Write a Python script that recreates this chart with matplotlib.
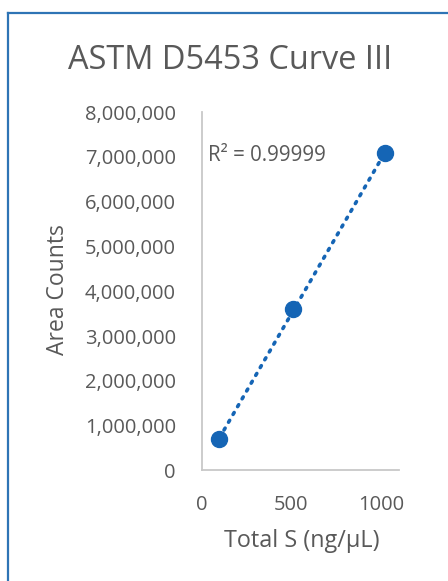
import numpy as np
import matplotlib
matplotlib.use('Agg')
import matplotlib.pyplot as plt
from matplotlib.ticker import FuncFormatter
from matplotlib.lines import Line2D

# calibration points
conc = [100, 510, 1020]               # Total S (ng/uL)
area = [710000, 3600000, 7080000]     # area counts
r2_text = 'R\u00b2 = 0.99999'
x_ticks = [0, 500, 1000]
y_ticks = list(range(0, 8000001, 1000000))

grey = '#595959'
blue = '#1565B5'
plt.rcParams['font.family'] = ['Open Sans', 'DejaVu Sans']

fig = plt.figure(figsize=(4.48, 5.81), dpi=100)
ax = fig.add_axes([0.4498, 0.1902, 0.4415, 0.617])

# linear trendline
m, b = np.polyfit(conc, area, 1)
xf = np.array([min(conc), max(conc)])
ax.plot(xf, m*xf + b, color=blue, lw=2.6, linestyle=(0, (0.6, 1.9)),
        dash_capstyle='round', zorder=2)
ax.plot(conc, area, 'o', color=blue, ms=11.5, zorder=3)

ax.set_xlim(0, 1100)
ax.set_ylim(0, 8000000)
ax.set_xticks(x_ticks)
ax.set_yticks(y_ticks)
ax.yaxis.set_major_formatter(FuncFormatter(lambda v, p: f'{int(v):,}'))
ax.tick_params(length=0, labelsize=14.5, colors=grey)
ax.tick_params(axis='y', pad=18.5)
ax.tick_params(axis='x', pad=17.5)
for s in ['top', 'right']:
    ax.spines[s].set_visible(False)
for s in ['left', 'bottom']:
    ax.spines[s].set_color('#C8C8C8')
    ax.spines[s].set_linewidth(1.3)

fig.text((301.5)/448, 1-541/581, 'Total S (ng/\u00b5L)', fontsize=16.8, color=grey,
         ha='center', va='center')
fig.text(58/448, 1-290/581, 'Area Counts', fontsize=16.5, color=grey,
         ha='center', va='center', rotation=90)
ax.text(0.033, 0.880, r2_text, transform=ax.transAxes, fontsize=14.8,
        color=grey, va='center', ha='left')

fig.text(0.513, 0.8967, 'ASTM D5453 Curve III', fontsize=23.4, color=grey,
         ha='center', va='center')

# outer blue frame (top and left edges)
fig.add_artist(Line2D([8/448, 1], [1-13/581, 1-13/581], color='#2E74B5', lw=1.6,
                      transform=fig.transFigure))
fig.add_artist(Line2D([8/448, 8/448], [0, 1-13/581], color='#2E74B5', lw=1.6,
                      transform=fig.transFigure))

fig.savefig('out.png', dpi=100)
